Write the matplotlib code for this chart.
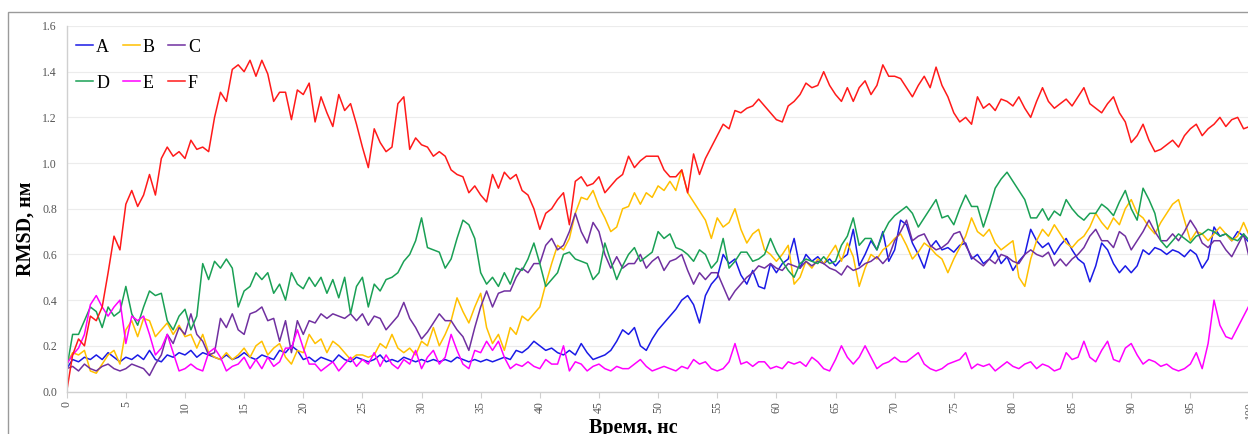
import numpy as np
import matplotlib
matplotlib.use("Agg")
import matplotlib.pyplot as plt
from matplotlib.patches import Rectangle

# ---------------- data (RMSD, nm; sampled every 0.5 ns) ----------------
time_ns = np.arange(0, 100.01, 0.5)

series_names = ["A", "B", "C", "D", "E", "F"]

A = [0.10, 0.14, 0.13, 0.15, 0.14, 0.16, 0.14, 0.17, 0.15, 0.13,
     0.15, 0.14, 0.16, 0.14, 0.18, 0.14, 0.13, 0.16, 0.15, 0.17,
     0.16, 0.18, 0.15, 0.17, 0.16, 0.15, 0.14, 0.16, 0.14, 0.15,
     0.17, 0.15, 0.14, 0.16, 0.15, 0.14, 0.18, 0.17, 0.20, 0.18,
     0.14, 0.15, 0.13, 0.15, 0.14, 0.13, 0.16, 0.14, 0.13, 0.15,
     0.14, 0.13, 0.14, 0.16, 0.13, 0.14, 0.13, 0.15, 0.14, 0.13,
     0.14, 0.13, 0.14, 0.13, 0.14, 0.13, 0.15, 0.14, 0.13, 0.14,
     0.13, 0.14, 0.13, 0.14, 0.15, 0.14, 0.18, 0.17, 0.19, 0.22,
     0.20, 0.18, 0.19, 0.17, 0.16, 0.18, 0.16, 0.21, 0.17, 0.14,
     0.15, 0.16, 0.18, 0.22, 0.27, 0.25, 0.28, 0.20, 0.18, 0.23,
     0.27, 0.30, 0.33, 0.36, 0.40, 0.42, 0.38, 0.30, 0.42, 0.47,
     0.50, 0.60, 0.56, 0.58, 0.51, 0.47, 0.53, 0.46, 0.45, 0.56,
     0.52, 0.56, 0.58, 0.67, 0.54, 0.60, 0.57, 0.59, 0.56, 0.58,
     0.55, 0.58, 0.60, 0.71, 0.55, 0.60, 0.66, 0.62, 0.70, 0.57,
     0.62, 0.75, 0.73, 0.65, 0.60, 0.54, 0.63, 0.66, 0.62, 0.63,
     0.61, 0.64, 0.65, 0.58, 0.60, 0.56, 0.58, 0.62, 0.56, 0.59,
     0.53, 0.57, 0.60, 0.71, 0.66, 0.63, 0.65, 0.60, 0.64, 0.67,
     0.62, 0.58, 0.56, 0.48, 0.55, 0.65, 0.62, 0.56, 0.52, 0.55,
     0.52, 0.55, 0.62, 0.60, 0.63, 0.62, 0.60, 0.62, 0.61, 0.59,
     0.62, 0.60, 0.54, 0.58, 0.72, 0.68, 0.69, 0.66, 0.70, 0.68,
     0.65]

B = [0.12, 0.17, 0.16, 0.18, 0.09, 0.08, 0.12, 0.16, 0.18, 0.12,
     0.27, 0.31, 0.24, 0.32, 0.31, 0.24, 0.27, 0.30, 0.25, 0.29,
     0.24, 0.25, 0.19, 0.25, 0.17, 0.15, 0.14, 0.17, 0.14, 0.16,
     0.19, 0.15, 0.20, 0.22, 0.16, 0.19, 0.21, 0.15, 0.12, 0.18,
     0.17, 0.25, 0.21, 0.23, 0.17, 0.22, 0.20, 0.17, 0.14, 0.16,
     0.16, 0.15, 0.16, 0.21, 0.19, 0.25, 0.19, 0.17, 0.19, 0.16,
     0.22, 0.20, 0.28, 0.20, 0.25, 0.31, 0.41, 0.35, 0.30, 0.37,
     0.43, 0.28, 0.21, 0.25, 0.18, 0.28, 0.25, 0.33, 0.31, 0.34,
     0.37, 0.47, 0.56, 0.64, 0.62, 0.67, 0.78, 0.85, 0.84, 0.88,
     0.81, 0.76, 0.70, 0.72, 0.80, 0.81, 0.87, 0.82, 0.87, 0.85,
     0.90, 0.88, 0.92, 0.88, 0.97, 0.87, 0.83, 0.79, 0.75, 0.67,
     0.76, 0.72, 0.74, 0.80, 0.71, 0.65, 0.69, 0.71, 0.62, 0.60,
     0.57, 0.60, 0.64, 0.47, 0.50, 0.57, 0.54, 0.58, 0.56, 0.60,
     0.64, 0.57, 0.65, 0.59, 0.46, 0.54, 0.60, 0.58, 0.62, 0.64,
     0.67, 0.69, 0.64, 0.58, 0.61, 0.65, 0.63, 0.60, 0.58, 0.52,
     0.58, 0.63, 0.68, 0.76, 0.70, 0.68, 0.71, 0.65, 0.62, 0.64,
     0.66, 0.50, 0.46, 0.58, 0.66, 0.71, 0.68, 0.73, 0.69, 0.65,
     0.63, 0.66, 0.68, 0.72, 0.78, 0.74, 0.71, 0.76, 0.73, 0.80,
     0.84, 0.78, 0.76, 0.72, 0.69, 0.74, 0.78, 0.82, 0.84, 0.75,
     0.66, 0.70, 0.69, 0.66, 0.69, 0.72, 0.69, 0.66, 0.68, 0.74,
     0.68]

C = [0.10, 0.11, 0.09, 0.12, 0.10, 0.09, 0.11, 0.12, 0.10, 0.09,
     0.10, 0.12, 0.11, 0.10, 0.07, 0.12, 0.16, 0.25, 0.21, 0.28,
     0.25, 0.34, 0.25, 0.22, 0.16, 0.17, 0.32, 0.28, 0.34, 0.27,
     0.25, 0.34, 0.35, 0.37, 0.31, 0.32, 0.22, 0.31, 0.17, 0.31,
     0.25, 0.31, 0.30, 0.34, 0.32, 0.34, 0.33, 0.32, 0.34, 0.31,
     0.34, 0.29, 0.33, 0.32, 0.27, 0.30, 0.33, 0.39, 0.32, 0.28,
     0.23, 0.26, 0.30, 0.34, 0.31, 0.31, 0.27, 0.24, 0.18, 0.28,
     0.37, 0.44, 0.37, 0.43, 0.44, 0.44, 0.50, 0.54, 0.52, 0.56,
     0.56, 0.64, 0.67, 0.62, 0.64, 0.70, 0.78, 0.70, 0.65, 0.74,
     0.70, 0.60, 0.54, 0.59, 0.54, 0.56, 0.56, 0.60, 0.54, 0.57,
     0.59, 0.53, 0.57, 0.58, 0.60, 0.53, 0.47, 0.52, 0.49, 0.52,
     0.52, 0.46, 0.40, 0.44, 0.47, 0.50, 0.52, 0.55, 0.54, 0.56,
     0.54, 0.53, 0.56, 0.55, 0.54, 0.57, 0.55, 0.57, 0.56, 0.54,
     0.53, 0.51, 0.55, 0.53, 0.54, 0.56, 0.57, 0.59, 0.56, 0.59,
     0.66, 0.70, 0.75, 0.66, 0.68, 0.69, 0.64, 0.62, 0.63, 0.65,
     0.69, 0.70, 0.64, 0.59, 0.57, 0.55, 0.58, 0.56, 0.60, 0.59,
     0.57, 0.56, 0.60, 0.62, 0.60, 0.59, 0.61, 0.55, 0.58, 0.55,
     0.58, 0.60, 0.63, 0.68, 0.71, 0.66, 0.66, 0.63, 0.70, 0.68,
     0.62, 0.66, 0.70, 0.75, 0.70, 0.66, 0.66, 0.69, 0.66, 0.70,
     0.75, 0.71, 0.65, 0.63, 0.66, 0.66, 0.62, 0.59, 0.64, 0.69,
     0.58]

D = [0.10, 0.25, 0.25, 0.31, 0.37, 0.35, 0.28, 0.37, 0.33, 0.35,
     0.46, 0.34, 0.29, 0.37, 0.44, 0.42, 0.43, 0.31, 0.27, 0.33,
     0.36, 0.27, 0.33, 0.56, 0.49, 0.57, 0.54, 0.58, 0.54, 0.37,
     0.44, 0.46, 0.52, 0.49, 0.52, 0.43, 0.47, 0.40, 0.52, 0.47,
     0.45, 0.50, 0.46, 0.50, 0.43, 0.49, 0.41, 0.50, 0.34, 0.46,
     0.50, 0.37, 0.47, 0.44, 0.49, 0.50, 0.52, 0.57, 0.60, 0.66,
     0.76, 0.63, 0.62, 0.61, 0.54, 0.58, 0.67, 0.75, 0.73, 0.67,
     0.52, 0.47, 0.50, 0.46, 0.52, 0.47, 0.54, 0.53, 0.58, 0.65,
     0.56, 0.46, 0.49, 0.52, 0.60, 0.61, 0.58, 0.57, 0.56, 0.49,
     0.52, 0.65, 0.57, 0.49, 0.55, 0.60, 0.63, 0.57, 0.59, 0.61,
     0.70, 0.67, 0.69, 0.63, 0.62, 0.60, 0.57, 0.62, 0.60, 0.54,
     0.57, 0.67, 0.54, 0.57, 0.61, 0.61, 0.57, 0.58, 0.60, 0.67,
     0.61, 0.57, 0.53, 0.50, 0.56, 0.58, 0.57, 0.56, 0.59, 0.56,
     0.57, 0.64, 0.68, 0.76, 0.64, 0.67, 0.67, 0.62, 0.69, 0.74,
     0.77, 0.79, 0.81, 0.78, 0.72, 0.76, 0.80, 0.84, 0.76, 0.77,
     0.73, 0.80, 0.86, 0.81, 0.81, 0.72, 0.80, 0.89, 0.93, 0.96,
     0.92, 0.88, 0.84, 0.76, 0.76, 0.80, 0.75, 0.79, 0.77, 0.84,
     0.80, 0.77, 0.75, 0.78, 0.78, 0.82, 0.80, 0.77, 0.83, 0.88,
     0.80, 0.75, 0.89, 0.84, 0.78, 0.66, 0.63, 0.66, 0.69, 0.67,
     0.65, 0.68, 0.69, 0.71, 0.70, 0.68, 0.69, 0.67, 0.66, 0.69,
     0.66]

E = [0.12, 0.16, 0.19, 0.25, 0.38, 0.42, 0.37, 0.33, 0.37, 0.40,
     0.21, 0.33, 0.31, 0.33, 0.25, 0.16, 0.19, 0.25, 0.17, 0.09,
     0.10, 0.12, 0.10, 0.09, 0.17, 0.19, 0.15, 0.09, 0.11, 0.12,
     0.15, 0.10, 0.14, 0.10, 0.15, 0.11, 0.13, 0.19, 0.19, 0.27,
     0.19, 0.12, 0.12, 0.09, 0.11, 0.13, 0.09, 0.12, 0.15, 0.11,
     0.14, 0.12, 0.17, 0.11, 0.16, 0.12, 0.10, 0.14, 0.12, 0.18,
     0.10, 0.15, 0.18, 0.12, 0.15, 0.25, 0.18, 0.12, 0.10, 0.18,
     0.17, 0.22, 0.18, 0.22, 0.15, 0.10, 0.12, 0.11, 0.13, 0.11,
     0.10, 0.14, 0.12, 0.12, 0.20, 0.09, 0.13, 0.12, 0.09, 0.11,
     0.12, 0.10, 0.09, 0.11, 0.10, 0.10, 0.12, 0.14, 0.11, 0.09,
     0.10, 0.11, 0.10, 0.09, 0.11, 0.10, 0.14, 0.12, 0.13, 0.10,
     0.09, 0.10, 0.13, 0.21, 0.12, 0.13, 0.11, 0.13, 0.13, 0.10,
     0.11, 0.10, 0.13, 0.12, 0.13, 0.11, 0.15, 0.13, 0.10, 0.09,
     0.14, 0.20, 0.15, 0.12, 0.15, 0.20, 0.15, 0.10, 0.12, 0.13,
     0.15, 0.13, 0.13, 0.15, 0.17, 0.12, 0.10, 0.09, 0.10, 0.12,
     0.13, 0.14, 0.17, 0.10, 0.12, 0.11, 0.12, 0.09, 0.11, 0.13,
     0.11, 0.10, 0.12, 0.13, 0.10, 0.12, 0.11, 0.09, 0.10, 0.17,
     0.14, 0.15, 0.22, 0.15, 0.13, 0.18, 0.22, 0.14, 0.13, 0.19,
     0.21, 0.16, 0.12, 0.14, 0.13, 0.11, 0.12, 0.10, 0.09, 0.10,
     0.12, 0.17, 0.10, 0.21, 0.40, 0.29, 0.24, 0.23, 0.28, 0.33,
     0.38]

F = [0.00, 0.16, 0.23, 0.20, 0.33, 0.31, 0.37, 0.52, 0.68, 0.62,
     0.82, 0.88, 0.81, 0.86, 0.95, 0.86, 1.02, 1.07, 1.03, 1.05,
     1.02, 1.10, 1.06, 1.07, 1.05, 1.20, 1.31, 1.27, 1.41, 1.43,
     1.40, 1.45, 1.38, 1.45, 1.39, 1.27, 1.31, 1.31, 1.19, 1.32,
     1.30, 1.35, 1.18, 1.29, 1.22, 1.16, 1.30, 1.23, 1.26, 1.17,
     1.07, 0.98, 1.15, 1.09, 1.05, 1.07, 1.26, 1.29, 1.06, 1.11,
     1.08, 1.07, 1.03, 1.05, 1.03, 0.97, 0.95, 0.94, 0.87, 0.90,
     0.86, 0.83, 0.95, 0.89, 0.96, 0.93, 0.95, 0.88, 0.86, 0.80,
     0.71, 0.78, 0.80, 0.84, 0.87, 0.73, 0.92, 0.94, 0.90, 0.91,
     0.94, 0.87, 0.90, 0.93, 0.95, 1.03, 0.98, 1.01, 1.03, 1.03,
     1.03, 0.97, 0.94, 0.94, 0.97, 0.87, 1.04, 0.95, 1.02, 1.07,
     1.12, 1.17, 1.15, 1.23, 1.22, 1.24, 1.25, 1.28, 1.25, 1.22,
     1.19, 1.18, 1.25, 1.27, 1.30, 1.35, 1.33, 1.34, 1.40, 1.34,
     1.30, 1.27, 1.33, 1.27, 1.33, 1.36, 1.30, 1.34, 1.43, 1.38,
     1.38, 1.37, 1.33, 1.29, 1.34, 1.38, 1.33, 1.42, 1.34, 1.29,
     1.22, 1.18, 1.20, 1.17, 1.29, 1.24, 1.26, 1.23, 1.28, 1.27,
     1.25, 1.29, 1.24, 1.20, 1.27, 1.33, 1.27, 1.24, 1.26, 1.28,
     1.25, 1.29, 1.33, 1.26, 1.24, 1.22, 1.26, 1.29, 1.22, 1.18,
     1.09, 1.12, 1.17, 1.10, 1.05, 1.06, 1.08, 1.10, 1.07, 1.12,
     1.15, 1.17, 1.12, 1.15, 1.17, 1.20, 1.16, 1.19, 1.20, 1.15,
     1.16]

x_ticks = list(range(0, 101, 5))
y_ticks = [0.0, 0.2, 0.4, 0.6, 0.8, 1.0, 1.2, 1.4, 1.6]
x_label = "Время, нс"
y_label = "RMSD, нм"

# ---------------- style ----------------
plt.rcParams['font.family'] = ['Liberation Serif', 'DejaVu Serif']
colors = {"A": "#1a1ae6", "B": "#ffc000", "C": "#7030a0",
          "D": "#1aa055", "E": "#ff00ff", "F": "#ff1a1a"}

W, H = 1248, 434
fig = plt.figure(figsize=(W / 100, H / 100), dpi=100)

# outer frame of the chart area
fig.patches.append(Rectangle((8 / W, -0.1), 1.2, 1 - 12 / H + 0.1,
                             transform=fig.transFigure, fill=False,
                             edgecolor="#9a9a9a", linewidth=1.0))

left, right = 66.7 / W, 1249.5 / W
bottom, top = 1 - 391.5 / H, 1 - 26.0 / H
ax = fig.add_axes([left, bottom, right - left, top - bottom])

data = {"A": A, "B": B, "C": C, "D": D, "E": E, "F": F}
lines = {}
for name in series_names:
    (ln,) = ax.plot(time_ns, data[name], color=colors[name], lw=1.1,
                    label=name, solid_joinstyle="round")
    lines[name] = ln

ax.set_xlim(0, 100)
ax.set_ylim(0, 1.6)
ax.set_xticks(x_ticks)
ax.set_xticklabels([str(t) for t in x_ticks], rotation=90)
ax.set_yticks(y_ticks)
ax.set_yticklabels([f"{v:.1f}" for v in y_ticks])
ax.tick_params(axis="both", labelsize=8.5, labelcolor="#555555")
ax.tick_params(axis="x", length=4, color="#d0d0d0", pad=3)
ax.tick_params(axis="y", length=0, pad=7)

ax.grid(axis="y", color="#ececec", lw=0.8)
ax.set_axisbelow(True)
for s in ["top", "right"]:
    ax.spines[s].set_visible(False)
for s in ["left", "bottom"]:
    ax.spines[s].set_color("#d0d0d0")
    ax.spines[s].set_linewidth(1.0)

fig.text(26 / W, 1 - 229 / H, y_label, ha="center", va="center",
         rotation=90, fontsize=14.5, fontweight="bold")
fig.text(633 / W, 1 - 433.5 / H, x_label, ha="center", va="baseline",
         fontsize=14.5, fontweight="bold")

order = ["A", "D", "B", "E", "C", "F"]
leg = ax.legend([lines[n] for n in order], order, ncol=3, loc="upper left",
                bbox_to_anchor=(0.0, 1.0), frameon=False, fontsize=13,
                handlelength=0.95, handletextpad=0.15, columnspacing=0.75,
                labelspacing=1.05, borderaxespad=0.3)
leg.set_bbox_to_anchor((-3 / (right - left) / W, 1.0), transform=ax.transAxes)

fig.savefig("out.png", dpi=100)
